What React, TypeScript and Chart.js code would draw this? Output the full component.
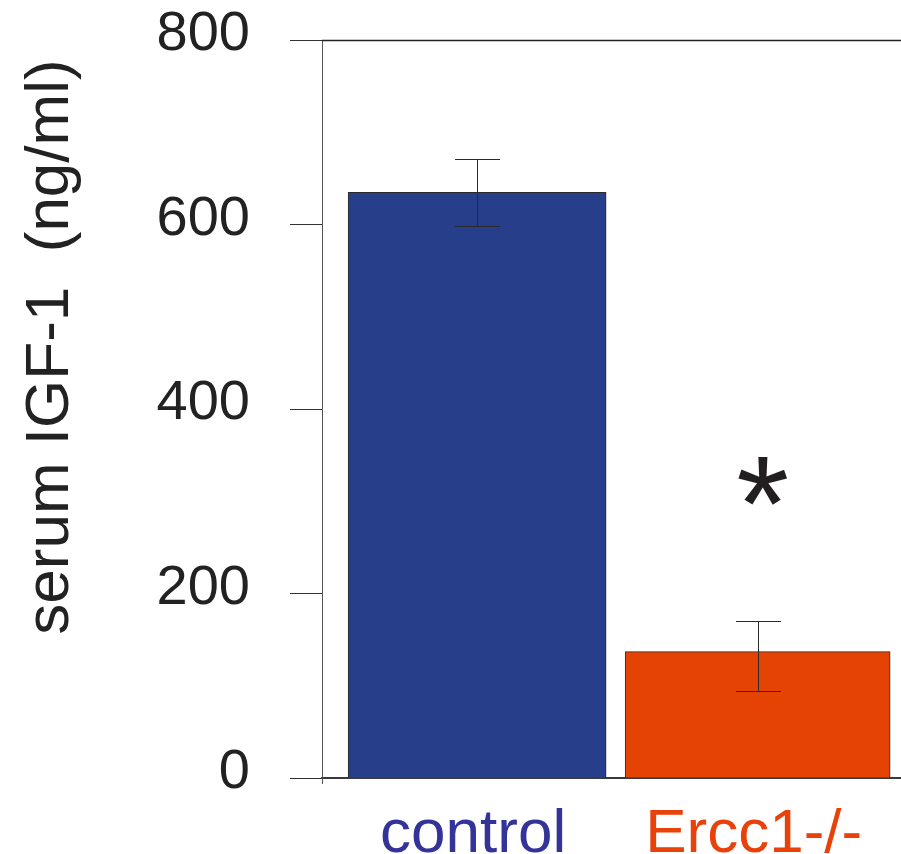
import React, { useEffect, useRef } from "react";
import { Chart, registerables } from "chart.js";

Chart.register(...registerables);

// ---- data ----
const categories = ["control", "Ercc1-/-"];
const values = [635, 137];
const errorUpper = [36, 33];
const errorLower = [37, 43];
const yTicks = [0, 200, 400, 600, 800];
const yAxisTitle = "serum IGF-1  (ng/ml)";
const significanceMarks = ["", "*"];
const significanceAt = [0, 322];

// ---- styles ----
const barColors = ["#273f8a", "#e54304"];
const labelColors = ["#333399", "#e8420a"];
const barWidths = [258, 265];
const FONT = "'Liberation Sans', Arial, Helvetica, sans-serif";
const TEXT = "#222222";

const overlay = {
  id: "overlay",
  afterDatasetsDraw(chart: any) {
    const { ctx, scales } = chart;
    const x = scales.x;
    const y = scales.y;
    ctx.save();
    ctx.strokeStyle = "#2a2a2a";
    ctx.lineWidth = 1;
    values.forEach((v, i) => {
      const cx = Math.round(x.getPixelForValue(i + 1)) + 0.5;
      const top = Math.round(y.getPixelForValue(v + errorUpper[i])) + 0.5;
      const bot = Math.round(y.getPixelForValue(v - errorLower[i])) + 0.5;
      ctx.beginPath();
      ctx.moveTo(cx, top);
      ctx.lineTo(cx, bot);
      ctx.moveTo(cx - 22.5, top);
      ctx.lineTo(cx + 22.5, top);
      ctx.moveTo(cx - 22.5, bot);
      ctx.lineTo(cx + 22.5, bot);
      ctx.stroke();
    });
    ctx.restore();
  },
  afterDraw(chart: any) {
    const { ctx, chartArea, scales } = chart;
    const x = scales.x;
    const y = scales.y;
    ctx.save();
    // top frame line
    ctx.strokeStyle = "#222";
    ctx.lineWidth = 1.5;
    ctx.beginPath();
    const ty = Math.round(chartArea.top) + 0.5;
    ctx.moveTo(chartArea.left, ty);
    ctx.lineTo(chartArea.right, ty);
    ctx.stroke();
    // small extension of the y axis below the x axis
    ctx.strokeStyle = "#555";
    ctx.lineWidth = 1;
    ctx.beginPath();
    const ax = Math.round(chartArea.left) + 0.5;
    ctx.moveTo(ax, chartArea.bottom);
    ctx.lineTo(ax, chartArea.bottom + 6);
    ctx.stroke();

    // y axis title (rotated)
    ctx.fillStyle = TEXT;
    ctx.font = `62px ${FONT}`;
    ctx.textAlign = "center";
    ctx.textBaseline = "alphabetic";
    ctx.save();
    ctx.translate(68, 347);
    ctx.rotate(-Math.PI / 2);
    ctx.fillText(yAxisTitle, 0, 0);
    ctx.restore();

    // significance marks
    significanceMarks.forEach((m, i) => {
      if (!m) return;
      const size = 136;
      ctx.font = `${size}px ${FONT}`;
      ctx.textAlign = "center";
      ctx.textBaseline = "alphabetic";
      const mm = ctx.measureText(m);
      const cx = x.getPixelForValue(i + 1) + 5;
      const cy = y.getPixelForValue(significanceAt[i]);
      const by = cy + (mm.actualBoundingBoxAscent - mm.actualBoundingBoxDescent) / 2;
      ctx.fillStyle = "#231f20";
      ctx.fillText(m, cx, by);
    });
    ctx.restore();
  },
};

export default function App() {
  const ref = useRef<HTMLCanvasElement | null>(null);

  useEffect(() => {
    document.body.style.margin = "0";
    if (!ref.current) return;
    const chart = new Chart(ref.current, {
      type: "bar",
      data: {
        datasets: categories.map((c, i) => ({
          label: c,
          data: [{ x: i + 1, y: values[i] }],
          backgroundColor: barColors[i],
          borderColor: "#2b2b2b",
          borderWidth: 1,
          barThickness: barWidths[i],
          grouped: false,
        })),
      },
      options: {
        animation: false,
        responsive: false,
        layout: { padding: { top: 40, left: 0, right: 0, bottom: 0 } },
        plugins: {
          legend: { display: false },
          tooltip: { enabled: false },
        },
        scales: {
          x: {
            type: "linear",
            min: 0.447,
            max: 2.511,
            offset: false,
            grid: { display: false, offset: false },
            border: { display: true, color: "#3a3a3a", width: 2 },
            afterBuildTicks: (scale: any) => {
              scale.ticks = categories.map((_, i) => ({ value: i + 1 }));
            },
            afterFit: (scale: any) => {
              scale.height = 76;
              scale.paddingLeft = 0;
              scale.paddingRight = 0;
            },
            ticks: {
              padding: 12,
              labelOffset: -4,
              font: { family: FONT, size: 62 },
              color: (ctx: any) => labelColors[ctx.index] || TEXT,
              callback: (_v: any, i: number) => categories[i],
              maxRotation: 0,
              autoSkip: false,
            },
          },
          y: {
            type: "linear",
            min: yTicks[0],
            max: yTicks[yTicks.length - 1],
            afterBuildTicks: (scale: any) => {
              scale.ticks = yTicks.map((v) => ({ value: v }));
            },
            afterFit: (scale: any) => {
              scale.width = 322;
              scale.paddingTop = 0;
              scale.paddingBottom = 0;
            },
            grid: {
              drawOnChartArea: false,
              drawTicks: true,
              tickLength: 32,
              color: "#333",
              lineWidth: 1,
            },
            border: { display: true, color: "#555", width: 1 },
            ticks: {
              padding: 40,
              labelOffset: -5,
              font: { family: FONT, size: 56 },
              color: TEXT,
            },
          },
        },
      },
      plugins: [overlay],
    });
    return () => chart.destroy();
  }, []);

  return (
    <div style={{ width: 901, height: 854 }}>
      <canvas ref={ref} width={901} height={854} style={{ display: "block" }} />
    </div>
  );
}
